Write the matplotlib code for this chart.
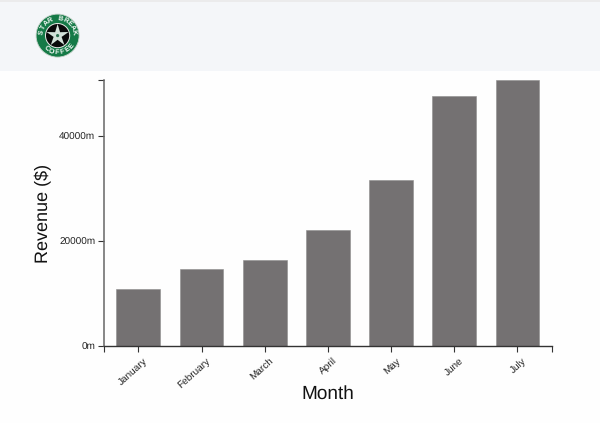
import numpy as np
import matplotlib
matplotlib.use('Agg')
import matplotlib.pyplot as plt
from matplotlib.patches import Circle, Rectangle, Polygon
from matplotlib.transforms import ScaledTranslation

plt.rcParams['font.family'] = ['Liberation Sans', 'DejaVu Sans']
plt.rcParams['text.hinting'] = 'no_hinting'
plt.rcParams['text.hinting_factor'] = 1

months = ['January', 'February', 'March', 'April', 'May', 'June', 'July']
revenue = [10860, 14670, 16380, 22100, 31600, 47600, 50600]
y_ticks = [0, 20000, 40000]

W, H = 600, 423
dark = '#333333'
bar_color = '#747172'

fig = plt.figure(figsize=(W / 100, H / 100), dpi=100, facecolor='#fefefe')

# page header behind the chart, in pixel coordinates
bg = fig.add_axes([0, 0, 1, 1])
bg.set_xlim(0, W)
bg.set_ylim(H, 0)
bg.axis('off')
bg.add_patch(Rectangle((0, 0), W, 71, color='#f4f6f9', lw=0))
bg.add_patch(Rectangle((0, 0), W, 2, color='#ebebec', lw=0))

# logo
cx, cy = 57.6, 35.6
bg.add_patch(Circle((cx, cy), 21.5, fc='#157a47', ec='#c8d4cc', lw=0.6))
bg.add_patch(Circle((cx, cy), 12.6, fc='#e4e8e4', lw=0))
bg.add_patch(Circle((cx, cy), 11.6, fc='#0a0a0a', lw=0))
ang = np.deg2rad(np.arange(0, 360, 36) - 90)
rad = np.array([11.6, 4.2] * 5)
bg.add_patch(Polygon(np.c_[cx + rad * np.cos(ang), cy + rad * np.sin(ang)], fc='#d4e2da', lw=0))
bg.add_patch(Circle((cx, cy), 1.6, fc='#2f6f50', lw=0))


def ring_text(txt, start, step, flip):
    for i, ch in enumerate(txt):
        a = np.deg2rad(start + i * step)
        x = cx + 16.8 * np.sin(a)
        y = cy - 16.8 * np.cos(a)
        rot = -np.rad2deg(a) + (180 if flip else 0)
        bg.text(x, y, ch, fontsize=5, fontweight='bold', color='white',
                ha='center', va='center', rotation=rot, rotation_mode='anchor')


ring_text('STAR BREAK', -78, 17.5, False)
ring_text('COFFEE', 222, -19, True)

# chart
x0, x1, y_top, y_bot = 104, 552, 80, 346
ax = fig.add_axes([x0 / W, 1 - y_bot / H, (x1 - x0) / W, (y_bot - y_top) / H])
ax.patch.set_alpha(0)

x = np.arange(len(months))
ax.bar(x, revenue, width=0.695, color=bar_color, edgecolor='#8e8c8d', linewidth=0.4)

ax.set_xlim(-0.543, 6.546)
ax.set_ylim(0, 50670)
ax.spines['top'].set_visible(False)
ax.spines['right'].set_visible(False)
ax.spines['left'].set_color('#666666')
ax.spines['left'].set_linewidth(1.1)
ax.spines['bottom'].set_color(dark)
ax.spines['bottom'].set_linewidth(1)

ax.set_yticks(y_ticks)
ax.set_yticklabels(['%dm' % v for v in y_ticks])
ax.set_xticks(x)
ax.set_xticklabels(months, rotation=42, ha='right', rotation_mode='anchor')
ax.tick_params(axis='both', labelsize=6.9, labelcolor='#222222', length=4.3,
               width=0.8, color=dark, pad=2)
ax.tick_params(axis='x', pad=3)

# labels sit a little right of their ticks
shift = ScaledTranslation(4.5 / 100, 0, fig.dpi_scale_trans)
for lab in ax.get_xticklabels():
    lab.set_transform(lab.get_transform() + shift)

# end ticks of the axis lines
ax.set_xticks(ax.get_xlim(), minor=True)
ax.set_yticks(ax.get_ylim(), minor=True)
ax.tick_params(which='minor', length=4.3, width=0.8, color=dark)

bg.text(328, 394, 'Month', fontsize=13.5, ha='center', va='center', color='#111111')
bg.text(43, 213, 'Revenue ($)', fontsize=13, ha='center', va='center', rotation=90, color='#111111')

fig.savefig('out.png', dpi=100, facecolor=fig.get_facecolor())
